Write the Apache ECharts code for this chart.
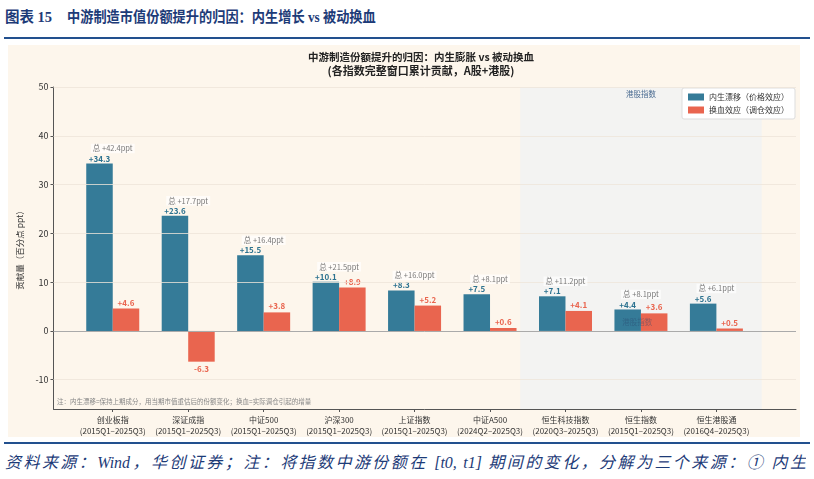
<!DOCTYPE html>
<html><head><meta charset="utf-8">
<script src="https://cdn.jsdelivr.net/npm/echarts@6/dist/echarts.min.js"></script>
<style>
html,body{margin:0;padding:0;background:#fff;width:814px;height:479px;overflow:hidden;}
#hdr{position:absolute;left:5px;top:7px;font-family:"Liberation Serif","Noto Sans CJK SC",serif;font-weight:bold;font-size:14.5px;color:#1d3b78;white-space:nowrap;line-height:20px;}
#hdr .t2{position:absolute;left:62px;top:0;font-size:15px;transform:scaleX(0.88);transform-origin:0 50%;}
#line1{position:absolute;left:4px;top:37px;width:806px;height:2px;background:#22508e;}
#chart{position:absolute;left:8px;top:45px;width:792px;height:392px;background:#fdf6ec;}
#line2{position:absolute;left:4px;top:442px;width:806px;height:2px;background:#22508e;}
#ftr{position:absolute;left:5px;top:451px;width:801px;overflow:hidden;white-space:nowrap;font-family:"Liberation Serif","Noto Sans CJK SC",serif;font-style:italic;font-size:16px;color:#1d3b78;line-height:24px;text-align:justify;text-align-last:justify;}
</style></head>
<body>
<div id="hdr"><span>图表 15</span><span class="t2">中游制造市值份额提升的归因：内生增长 vs 被动换血</span></div>
<div id="line1"></div>
<div id="chart"></div>
<div id="line2"></div>
<div id="ftr">资料来源：Wind，华创证券；注：将指数中游份额在 [t0, t1] 期间的变化，分解为三个来源：① 内生</div>
<script>
const categories = ['创业板指','深证成指','中证500','沪深300','上证指数','中证A500','恒生科技指数','恒生指数','恒生港股通'];
const periods = ['2015Q1–2025Q3','2015Q1–2025Q3','2015Q1–2025Q3','2015Q1–2025Q3','2015Q1–2025Q3','2024Q2–2025Q3','2020Q3–2025Q3','2015Q1–2025Q3','2016Q4–2025Q3'];
const endoValues = [34.3, 23.6, 15.5, 10.1, 8.3, 7.5, 7.1, 4.4, 5.6];
const swapValues = [4.6, -6.3, 3.8, 8.9, 5.2, 0.6, 4.1, 3.6, 0.5];
const totalValues = [42.4, 17.7, 16.4, 21.5, 16.0, 8.1, 11.2, 8.1, 6.1];
const yTicks = [-10, 0, 10, 20, 30, 40, 50];
const xTicks = [0, 1, 2, 3, 4, 5, 6, 7, 8];
const hkSpan = [5.4, 8.6];
const seriesNames = ['内生漂移（价格效应）', '换血效应（调仓效应）'];

const FONT = '"Noto Sans CJK SC","Noto Sans",sans-serif';
const BLUE = '#357b98', RED = '#e9654f';
const sgn = v => (v >= 0 ? '+' : '') + v.toFixed(1);

const chart = echarts.init(document.getElementById('chart'));
chart.setOption({
  backgroundColor: '#fdf6ec',
  animation: false,
  textStyle: {fontFamily: FONT},
  grid: {left: 42, right: 4, top: 42, bottom: 28},
  graphic: [
    {type:'text', x:413, y:12, style:{text:'中游制造份额提升的归因：内生膨胀 vs 被动换血', font:'bold 10.5px '+FONT, fill:'#222', align:'center', verticalAlign:'middle'}},
    {type:'text', x:413, y:26, style:{text:'(各指数完整窗口累计贡献，A股+港股)', font:'bold 11px '+FONT, fill:'#222', align:'center', verticalAlign:'middle'}},
    {type:'text', x:49, y:357, style:{text:'注：内生漂移=保持上期成分，用当期市值重估后的份额变化；换血=实际调仓引起的增量', font:'6.5px '+FONT, fill:'#888', verticalAlign:'middle'}}
  ],
  legend: {
    data: seriesNames, orient:'vertical', right: 5, top: 43,
    backgroundColor:'#fff', borderColor:'#ddd', borderWidth:1, borderRadius:2,
    padding:[5,6], itemGap:5, itemWidth:16, itemHeight:7, icon:'rect',
    textStyle:{fontSize:8, color:'#333', fontFamily: FONT}
  },
  xAxis: {
    type:'value', min:-0.785, max:9.055,
    axisLine:{show:true, onZero:false, lineStyle:{color:'#555', width:1}},
    axisTick:{show:true, customValues:xTicks, length:3, lineStyle:{color:'#555'}},
    axisLabel:{customValues:xTicks, fontSize:8, lineHeight:11, color:'#333', margin:5,
      formatter: v => { const i = Math.round(v); return categories[i] + '\n(' + periods[i] + ')'; }},
    splitLine:{show:false}
  },
  yAxis: {
    type:'value', min:-16, max:50,
    name:'贡献量（百分点 ppt）', nameLocation:'middle', nameGap:21, nameRotate:90,
    nameTextStyle:{fontSize:8.5, color:'#333'},
    axisLine:{show:true, onZero:false, lineStyle:{color:'#555', width:1}},
    axisTick:{show:true, customValues:yTicks, length:3, lineStyle:{color:'#555'}},
    axisLabel:{customValues:yTicks, fontSize:9, color:'#333', margin:5},
    splitLine:{show:false}
  },
  series: [
    {
      type:'scatter', data:[], silent:true, z:1,
      markArea:{silent:true, itemStyle:{color:'#f3f3f2'},
        label:{show:true, position:'insideTop', distance:3, color:'#4b6c92', fontSize:7.5, fontFamily:FONT},
        data:[[{xAxis:hkSpan[0], name:'港股指数'},{xAxis:hkSpan[1]}]]}
    },
    {
      type:'scatter', data:[], silent:true, z:2,
      markLine:{silent:true, symbol:'none', animation:false, label:{show:false},
        lineStyle:{color:'#ede5d9', width:0.8, type:'solid'},
        data: yTicks.filter(v => v !== 0).map(v => ({yAxis:v}))}
    },
    {
      type:'scatter', data:[], silent:true, z:2,
      markLine:{silent:true, symbol:'none', animation:false, label:{show:false},
        lineStyle:{color:'#aaa', width:1, type:'solid'},
        data:[{yAxis:0}]}
    },
    {
      name: seriesNames[0], type:'bar', barWidth:26.5, barGap:'0%', z:3,
      itemStyle:{color:BLUE},
      label:{show:true, position:'top', distance:1, fontSize:8, fontWeight:'bold', color:'#2c7290',
        formatter: p => sgn(p.value[1])},
      data: endoValues.map((v,i) => [i, v])
    },
    {
      name: seriesNames[1], type:'bar', barWidth:26.5, barGap:'0%', z:3,
      itemStyle:{color:RED},
      label:{show:true, position:'top', distance:2, fontSize:8, fontWeight:'bold', color:RED,
        formatter: p => sgn(p.value[1])},
      data: swapValues.map((v,i) => v < 0 ? {value:[i, v], label:{position:'bottom', distance:3}} : [i, v])
    },
    {
      type:'scatter', symbolSize:0, silent:true, z:5,
      label:{show:true, position:'inside', offset:[0,-15], fontSize:7.5, color:'#555',
        backgroundColor:'rgba(255,255,255,0.85)', padding:[1,2],
        formatter: p => '总 +' + totalValues[p.dataIndex].toFixed(1) + 'ppt'},
      data: totalValues.map((t,i) => [i, Math.max(endoValues[i], swapValues[i], 0)])
    },
    {
      type:'scatter', symbolSize:0, silent:true, z:6,
      label:{show:true, position:'inside', fontSize:7.5, color:'rgba(40,70,110,0.55)',
        formatter: () => '港股指数'},
      data: [[(hkSpan[0] + hkSpan[1]) / 2 - 0.05, 1.8]]
    }
  ]
});
</script>
</body></html>
